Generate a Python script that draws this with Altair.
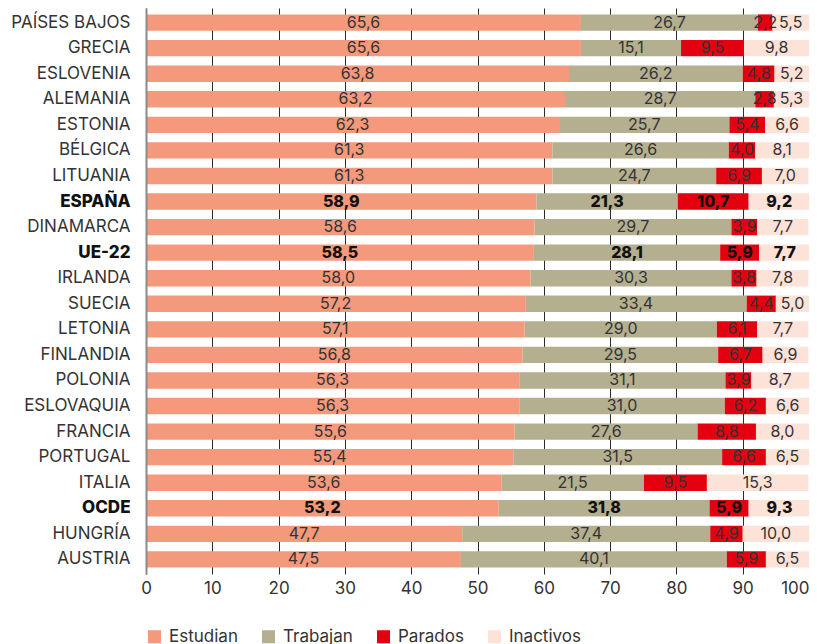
import altair as alt
import pandas as pd

countries = ["PAÍSES BAJOS", "GRECIA", "ESLOVENIA", "ALEMANIA", "ESTONIA", "BÉLGICA",
             "LITUANIA", "ESPAÑA", "DINAMARCA", "UE-22", "IRLANDA", "SUECIA", "LETONIA",
             "FINLANDIA", "POLONIA", "ESLOVAQUIA", "FRANCIA", "PORTUGAL", "ITALIA", "OCDE",
             "HUNGRÍA", "AUSTRIA"]
estudian = [65.6, 65.6, 63.8, 63.2, 62.3, 61.3, 61.3, 58.9, 58.6, 58.5, 58.0, 57.2, 57.1,
            56.8, 56.3, 56.3, 55.6, 55.4, 53.6, 53.2, 47.7, 47.5]
trabajan = [26.7, 15.1, 26.2, 28.7, 25.7, 26.6, 24.7, 21.3, 29.7, 28.1, 30.3, 33.4, 29.0,
            29.5, 31.1, 31.0, 27.6, 31.5, 21.5, 31.8, 37.4, 40.1]
parados = [2.2, 9.5, 4.8, 2.8, 5.4, 4.0, 6.9, 10.7, 3.9, 5.9, 3.8, 4.4, 6.1,
           6.7, 3.9, 6.2, 8.8, 6.6, 9.5, 5.9, 4.9, 5.9]
inactivos = [5.5, 9.8, 5.2, 5.3, 6.6, 8.1, 7.0, 9.2, 7.7, 7.7, 7.8, 5.0, 7.7,
             6.9, 8.7, 6.6, 8.0, 6.5, 15.3, 9.3, 10.0, 6.5]
series = ["Estudian", "Trabajan", "Parados", "Inactivos"]
colors = ["#F4997B", "#B3AF8F", "#E3000F", "#FDE2D8"]
bold_rows = ["ESPAÑA", "UE-22", "OCDE"]
x_ticks = [0, 10, 20, 30, 40, 50, 60, 70, 80, 90, 100]

rows = []
for i, c in enumerate(countries):
    for j, (s, vals) in enumerate(zip(series, [estudian, trabajan, parados, inactivos])):
        v = vals[i]
        rows.append({"country": c, "serie": s, "order": j, "value": v,
                     "label": f"{v:.1f}".replace(".", ","), "bold": c in bold_rows})
df = pd.DataFrame(rows)

FONT = "Inter"
bold_test = "indexof(['ESPAÑA','UE-22','OCDE'], datum.value) >= 0"

base = alt.Chart(df).transform_stack(
    stack="value", as_=["x0", "x1"], groupby=["country"], sort=[alt.SortField("order")]
).transform_calculate(mid="(datum.x0 + datum.x1) / 2")

y = alt.Y("country:N", sort=countries, title=None,
          scale=alt.Scale(paddingInner=0.36, paddingOuter=0.25),
          axis=alt.Axis(ticks=False, domain=True, domainColor="#8a8a8a", domainWidth=2,
                        labelFont=FONT, labelFontSize=17, labelPadding=16,
                        labelColor={"condition": {"test": bold_test, "value": "#111111"}, "value": "#333333"},
                        labelFontWeight={"condition": {"test": bold_test, "value": 800}, "value": "normal"},
                        zindex=1))

xscale = alt.Scale(domain=[0, 100], nice=False, clamp=True)

bars = base.mark_bar().encode(
    x=alt.X("x0:Q", scale=xscale, title=None,
            axis=alt.Axis(values=x_ticks, grid=True, gridColor="#2a2a2a", gridWidth=1,
                          ticks=False, domain=False, labelFont=FONT, labelFontSize=17,
                          labelColor="#333333", labelPadding=6,
                          labelAlign={"condition": {"test": "datum.value == 100", "value": "right"}, "value": "center"})),
    x2="x1:Q",
    y=y,
    color=alt.Color("serie:N", scale=alt.Scale(domain=series, range=colors),
                    legend=alt.Legend(title=None, orient="none", legendX=0, legendY=620,
                                      direction="horizontal", symbolType="square",
                                      symbolSize=169, symbolStrokeWidth=0,
                                      labelFont=FONT, labelFontSize=17, labelColor="#333333",
                                      labelOffset=6, columnPadding=22)),
)

txt_normal = base.transform_filter("!datum.bold").mark_text(
    font=FONT, fontSize=16, color="#333333", baseline="middle"
).encode(x=alt.X("mid:Q", scale=xscale), y=y, text="label:N")

txt_bold = base.transform_filter("datum.bold").mark_text(
    font=FONT, fontSize=16, fontWeight=800, color="#111111", baseline="middle"
).encode(x=alt.X("mid:Q", scale=xscale), y=y, text="label:N")

chart = alt.layer(bars, txt_normal, txt_bold).properties(
    width=663, height=566,
    autosize=alt.AutoSizeParams(type="none"),
    padding={"left": 138, "top": 0, "right": 0, "bottom": 80},
).configure_view(stroke=None)

chart.save("out.html", embed_options={"renderer": "svg", "actions": False})
